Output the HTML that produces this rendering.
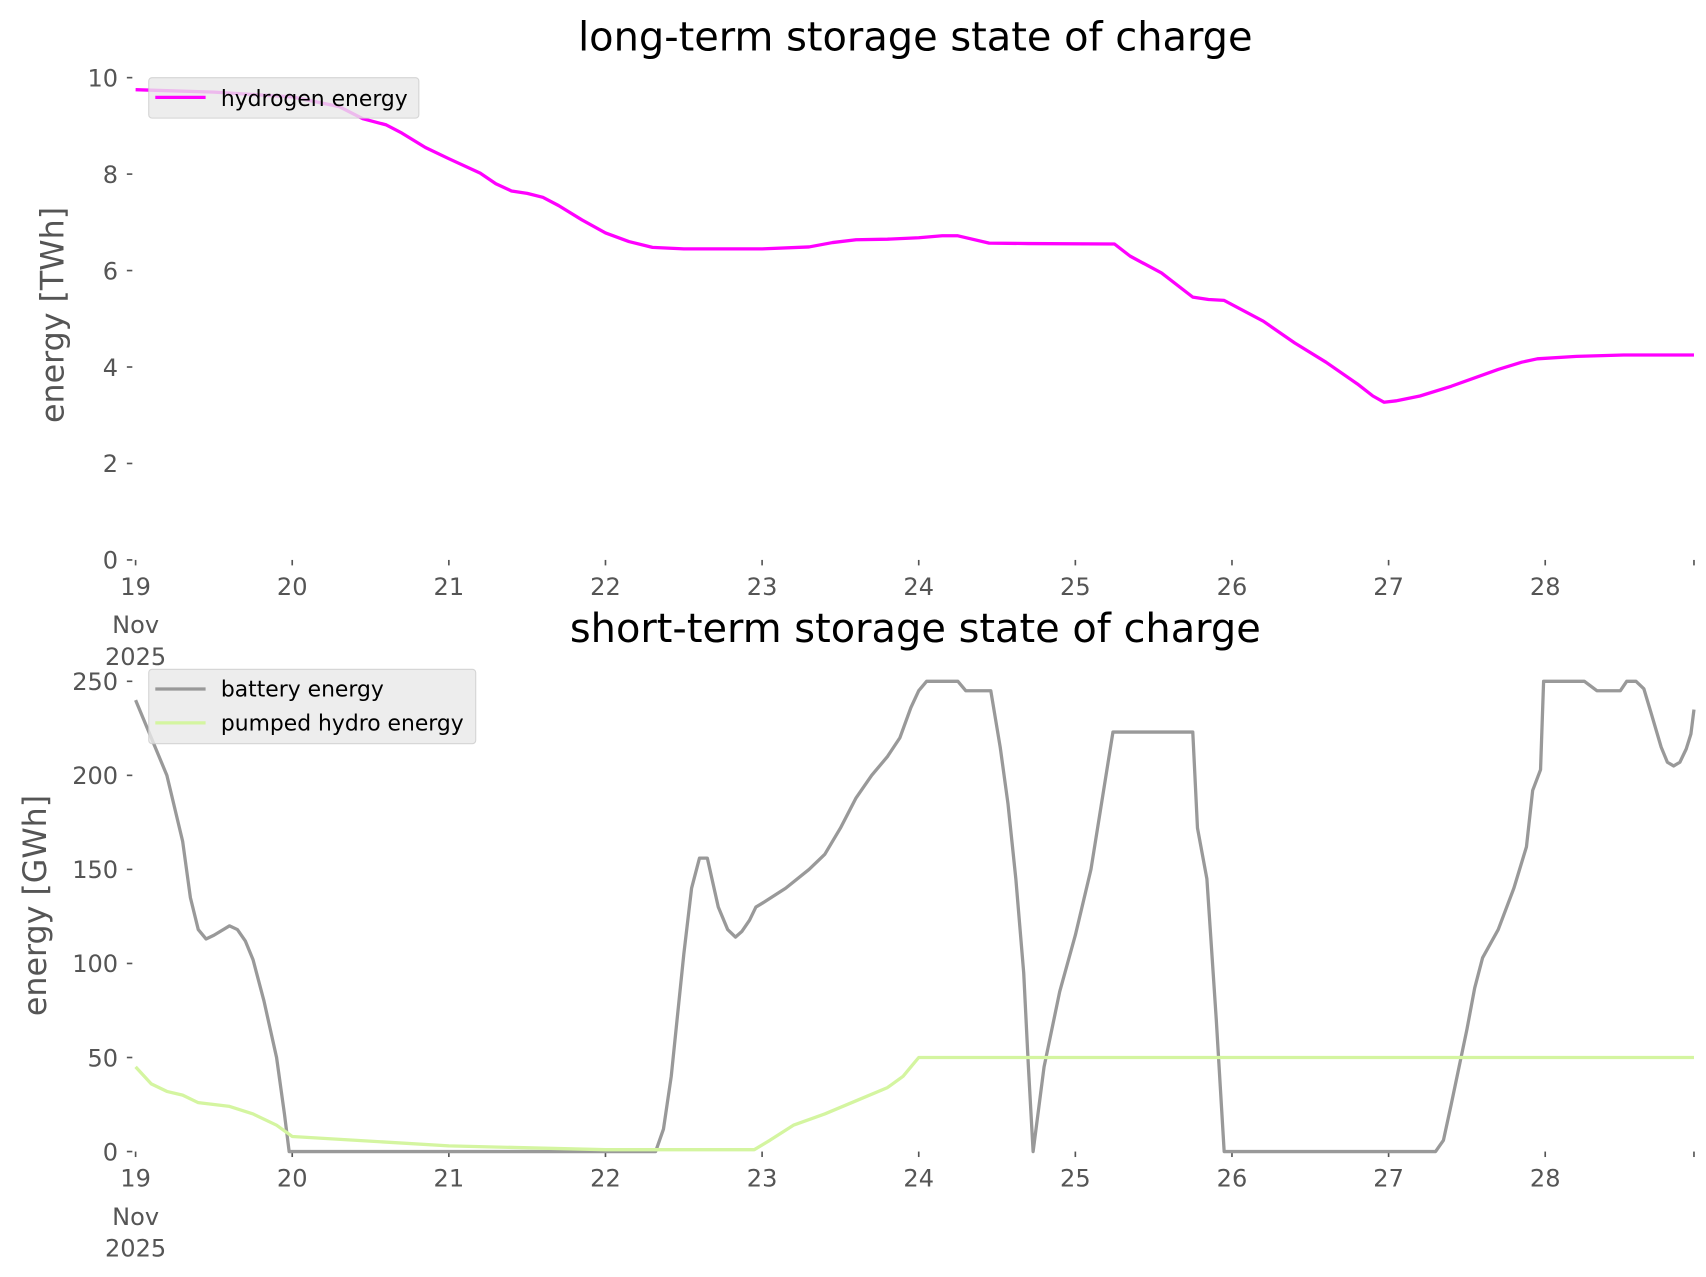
<!DOCTYPE html>
<html><head><meta charset="utf-8"><style>
html,body{margin:0;padding:0;background:#fff}
svg{display:block}
text{font-family:"DejaVu Sans","Liberation Sans",sans-serif}
</style></head><body>
<svg id="s" width="1706" height="1277" viewBox="0 0 1560 1167.7" xmlns="http://www.w3.org/2000/svg">
<text x="837" y="46" font-size="36.5" text-anchor="middle" fill="#000">long-term storage state of charge</text>
<text x="837" y="587" font-size="36.5" text-anchor="middle" fill="#000">short-term storage state of charge</text>
<text transform="translate(58,288) rotate(-90)" font-size="29" text-anchor="middle" fill="#555">energy [TWh]</text>
<text transform="translate(42,828) rotate(-90)" font-size="29" text-anchor="middle" fill="#555">energy [GWh]</text>
<g id="g"></g>
</svg>
<script>
var g=document.getElementById('g'),h='';
var X=function(d){return 124+(d-19)*143.22;};
function path(pts,fx,fy,col,w){var s='';pts.forEach(function(p,i){s+=(i?'L':'M')+fx(p[0]).toFixed(1)+','+fy(p[1]).toFixed(1);});h+='<path d="'+s+'" fill="none" stroke="'+col+'" stroke-width="'+w+'" stroke-linejoin="round"/>';}
var Y1=function(v){return 512-v*44.1;}, Y2=function(v){return 1053-v*1.72;};
function xticks(base){for(var d=19;d<=28;d++){var x=X(d);h+='<line x1="'+x+'" y1="'+(base+3)+'" x2="'+x+'" y2="'+(base+8)+'" stroke="#555" stroke-width="1.5"/>';h+='<text x="'+x+'" y="'+(base+35)+'" font-size="22" text-anchor="middle" fill="#555">'+d+'</text>';}
 h+='<line x1="1549" y1="'+(base+3)+'" x2="1549" y2="'+(base+8)+'" stroke="#555" stroke-width="1.5"/>';
 h+='<text x="124" y="'+(base+70)+'" font-size="22" text-anchor="middle" fill="#555">Nov</text><text x="124" y="'+(base+99)+'" font-size="22" text-anchor="middle" fill="#555">2025</text>';}
xticks(509);xticks(1050);
[0,2,4,6,8,10].forEach(function(v){var y=Y1(v);h+='<line x1="116" y1="'+y+'" x2="121" y2="'+y+'" stroke="#555" stroke-width="1.5"/><text x="108" y="'+(y+8)+'" font-size="22" text-anchor="end" fill="#555">'+v+'</text>';});
[0,50,100,150,200,250].forEach(function(v){var y=Y2(v);h+='<line x1="116" y1="'+y+'" x2="121" y2="'+y+'" stroke="#555" stroke-width="1.5"/><text x="108" y="'+(y+8)+'" font-size="22" text-anchor="end" fill="#555">'+v+'</text>';});
var hy=[[19,9.75],[19.5,9.7],[20,9.6],[20.3,9.4],[20.45,9.15],[20.6,9.02],[20.7,8.85],[20.85,8.55],[21,8.32],[21.2,8.02],[21.3,7.8],[21.4,7.65],[21.5,7.6],[21.6,7.52],[21.7,7.35],[21.85,7.05],[22,6.78],[22.15,6.6],[22.3,6.48],[22.5,6.45],[23,6.45],[23.3,6.49],[23.45,6.58],[23.6,6.64],[23.8,6.65],[24,6.68],[24.15,6.72],[24.25,6.72],[24.45,6.57],[24.7,6.56],[25.25,6.55],[25.35,6.3],[25.55,5.95],[25.75,5.45],[25.85,5.4],[25.95,5.38],[26.2,4.95],[26.4,4.5],[26.6,4.1],[26.8,3.65],[26.9,3.4],[26.97,3.27],[27.05,3.3],[27.2,3.4],[27.4,3.6],[27.7,3.95],[27.85,4.1],[27.95,4.17],[28.2,4.22],[28.5,4.25],[28.95,4.25]];
path(hy,X,Y1,'#ff00ff',3);
var ph=[[19,45],[19.1,36],[19.2,32],[19.3,30],[19.4,26],[19.5,25],[19.6,24],[19.75,20],[19.9,14],[20,8],[21,3],[22,1],[22.95,1],[23.05,6],[23.2,14],[23.4,20],[23.6,27],[23.8,34],[23.9,40],[23.95,45],[24.0,50],[28.95,50]];
var bt=[[19,240],[19.1,220],[19.2,200],[19.3,165],[19.35,135],[19.4,118],[19.45,113],[19.5,115],[19.6,120],[19.65,118],[19.7,112],[19.75,102],[19.82,80],[19.9,50],[19.95,20],[19.98,0],[22.32,0],[22.37,12],[22.42,40],[22.5,105],[22.55,140],[22.6,156],[22.65,156],[22.72,130],[22.78,118],[22.83,114],[22.87,117],[22.92,123],[22.96,130],[23.0,132],[23.15,140],[23.3,150],[23.4,158],[23.5,172],[23.6,188],[23.7,200],[23.8,210],[23.88,220],[23.95,236],[24.0,245],[24.05,250],[24.25,250],[24.3,245],[24.46,245],[24.52,215],[24.57,185],[24.62,145],[24.67,95],[24.7,45],[24.73,0],[24.8,45],[24.9,85],[25.0,115],[25.1,150],[25.24,223],[25.75,223],[25.78,172],[25.84,145],[25.9,70],[25.95,0],[27.3,0],[27.35,6],[27.4,25],[27.5,65],[27.55,87],[27.6,103],[27.7,118],[27.8,140],[27.88,162],[27.92,192],[27.97,203],[27.99,250],[28.25,250],[28.33,245],[28.48,245],[28.52,250],[28.58,250],[28.63,246],[28.68,232],[28.74,215],[28.78,207],[28.82,205],[28.86,207],[28.9,214],[28.93,222],[28.95,235]];
path(bt,X,Y2,'#999999',3);
path(ph,X,Y2,'#d4f5a0',3);
h+='<rect x="136" y="71" width="247" height="37" rx="3" fill="#e8e8e8" fill-opacity="0.8" stroke="#cccccc" stroke-opacity="0.8"/>';
h+='<line x1="142" y1="89" x2="188" y2="89" stroke="#ff00ff" stroke-width="3"/><text x="202" y="97" font-size="20" fill="#000">hydrogen energy</text>';
h+='<rect x="136" y="612" width="299" height="68" rx="3" fill="#e8e8e8" fill-opacity="0.8" stroke="#cccccc" stroke-opacity="0.8"/>';
h+='<line x1="142" y1="630" x2="188" y2="630" stroke="#999999" stroke-width="3"/><text x="202" y="637" font-size="20" fill="#000">battery energy</text>';
h+='<line x1="142" y1="661" x2="188" y2="661" stroke="#d4f5a0" stroke-width="3"/><text x="202" y="668" font-size="20" fill="#000">pumped hydro energy</text>';
g.innerHTML=h;
</script>
</body></html>
